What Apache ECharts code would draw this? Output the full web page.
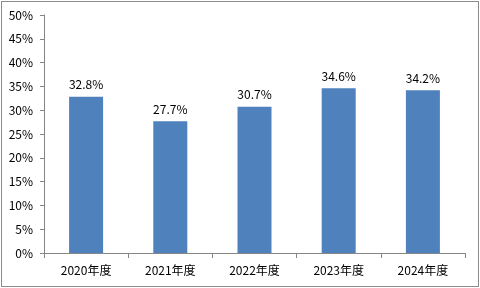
<!DOCTYPE html>
<html><head><meta charset="utf-8">
<script src="https://cdn.jsdelivr.net/npm/echarts@6/dist/echarts.min.js"></script>
<style>html,body{margin:0;padding:0;background:#fff}#c{width:480px;height:288px;position:relative}
#b{position:absolute;left:1px;top:1px;width:476px;height:284px;border:1px solid #8c8c8c;pointer-events:none}</style>
</head><body><div id="c"></div><div id="b"></div>
<script>
const categories = ['2020年度','2021年度','2022年度','2023年度','2024年度'];
const values = [32.8, 27.7, 30.7, 34.6, 34.2];
const yTicks = [0,5,10,15,20,25,30,35,40,45,50];
const chart = echarts.init(document.getElementById('c'), null, {renderer:'canvas'});
const font = '"Noto Sans CJK SC", "DejaVu Sans", sans-serif';
chart.setOption({
  animation:false,
  grid:{left:44,right:15,top:15,bottom:35},
  xAxis:{type:'category',data:categories,
    axisLine:{lineStyle:{color:'#868686'}},
    axisTick:{show:true,alignWithLabel:false,length:5,lineStyle:{color:'#868686'}},
    axisLabel:{color:'#000',fontSize:12,fontFamily:font,margin:11}},
  yAxis:{type:'value',min:yTicks[0],max:yTicks[yTicks.length-1],interval:5,
    axisLine:{show:true,lineStyle:{color:'#868686'}},
    axisTick:{show:true,length:4,lineStyle:{color:'#868686'}},
    splitLine:{show:false},
    axisLabel:{color:'#000',fontSize:12,fontFamily:font,margin:11,formatter:v=>v+'%'}},
  series:[{type:'bar',data:values,barWidth:34,itemStyle:{color:'#4F81BD'},
    label:{show:true,position:'top',distance:6,color:'#000',fontSize:12,fontFamily:font,formatter:p=>p.value.toFixed(1)+'%'}}]
});
</script></body></html>
